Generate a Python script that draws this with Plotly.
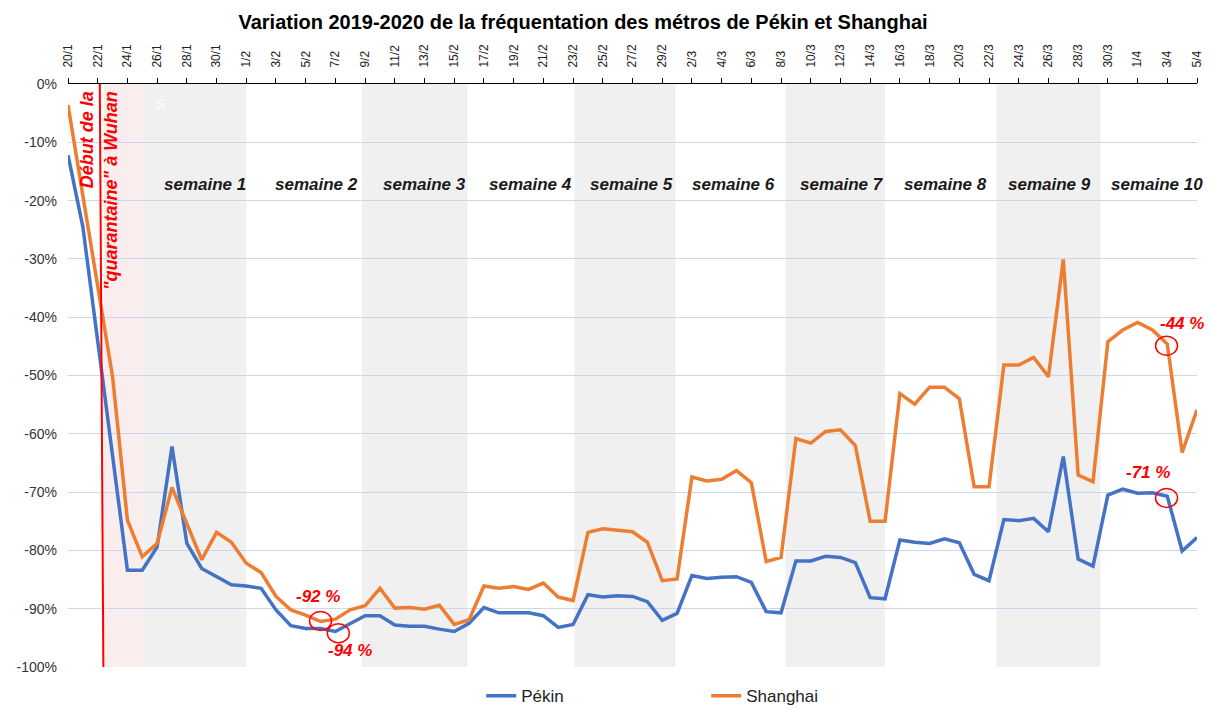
import pandas as pd
import plotly.graph_objects as go

# ---- data ----
dates = [f"{d.day}/{d.month}" for d in pd.date_range("2020-01-20", "2020-04-05")]
pekin = [-12.2, -24.5, -44.1, -63.8, -83.4, -83.4, -79.4, -62.2, -78.8, -83.1,
         -84.5, -85.9, -86.1, -86.5, -90.2, -92.9, -93.4, -93.4, -93.9, -92.5,
         -91.2, -91.2, -92.8, -93.0, -93.0, -93.5, -93.9, -92.5, -89.8, -90.7,
         -90.7, -90.7, -91.2, -93.2, -92.7, -87.6, -88.0, -87.8, -87.9, -88.8,
         -92.0, -90.8, -84.3, -84.8, -84.6, -84.5, -85.5, -90.5, -90.7, -81.8,
         -81.8, -81.0, -81.2, -82.1, -88.1, -88.3, -78.2, -78.6, -78.8, -78.0,
         -78.7, -84.1, -85.2, -74.7, -74.9, -74.5, -76.8, -63.9, -81.5, -82.7,
         -70.5, -69.5, -70.2, -70.1, -70.7, -80.1, -77.8]
shanghai = [-3.6, -19.2, -34.7, -50.2, -74.8, -81.1, -78.8, -69.2, -75.4, -81.6,
            -76.9, -78.6, -82.2, -83.8, -87.9, -90.2, -91.1, -92.2, -91.8, -90.2,
            -89.5, -86.5, -89.9, -89.8, -90.1, -89.4, -92.7, -91.9, -86.1, -86.5,
            -86.2, -86.7, -85.6, -88.0, -88.6, -76.9, -76.3, -76.5, -76.8, -78.6,
            -85.2, -84.9, -67.4, -68.1, -67.8, -66.3, -68.4, -81.9, -81.2, -60.8,
            -61.6, -59.6, -59.3, -62.0, -75.0, -75.0, -53.1, -54.9, -52.0, -52.0,
            -54.0, -69.1, -69.1, -48.2, -48.2, -46.9, -50.2, -30.1, -67.1, -68.2,
            -44.2, -42.2, -40.9, -42.2, -44.6, -63.2, -55.9]
week_labels = [f"semaine {i}" for i in range(1, 11)]
y_ticks = [0, -10, -20, -30, -40, -50, -60, -70, -80, -90, -100]
y_ticktext = ["0%", "-10%", "-20%", "-30%", "-40%", "-50%", "-60%", "-70%", "-80%", "-90%", "-100%"]
x_ticks = dates[::2]

# ---- layout constants ----
BLUE = "#4472C4"
ORANGE = "#ED7D31"
RED = "#FF0000"
FONT = "Liberation Sans, Arial, sans-serif"
grey_bands = [(5.1, 12.0), (19.8, 26.9), (34.1, 40.9), (48.3, 55.0), (62.5, 69.5)]
pink_band = (2.4, 5.1)
week_x = [9.2, 16.7, 24.0, 31.1, 37.9, 44.8, 52.1, 59.1, 66.1, 73.3]
OFF = 8  # page body margin of the browser
W, H = 1212 - OFF, 709 - OFF

fig = go.Figure()
fig.add_trace(go.Scatter(x=dates, y=pekin, mode="lines", name="Pékin",
                         line=dict(color=BLUE, width=3.5)))
fig.add_trace(go.Scatter(x=dates, y=shanghai, mode="lines", name="Shanghai",
                         line=dict(color=ORANGE, width=3.5)))

shapes = []
for x0, x1 in grey_bands:
    shapes.append(dict(type="rect", xref="x", yref="y", x0=x0, x1=x1, y0=-100, y1=0,
                       fillcolor="#F0F0F0", line=dict(width=0), layer="below"))
shapes.append(dict(type="rect", xref="x", yref="y", x0=pink_band[0], x1=pink_band[1],
                   y0=-100, y1=0, fillcolor="#FAEDED", line=dict(width=0), layer="below"))
shapes.append(dict(type="line", xref="x", yref="y", x0=2.14, x1=2.38, y0=0, y1=-100,
                   line=dict(color=RED, width=2)))
# highlight circles
for cx, cy in [(17.0, -92.1), (18.2, -94.2), (73.95, -44.9), (73.95, -71.0)]:
    shapes.append(dict(type="circle", xref="x", yref="y",
                       x0=cx - 0.74, x1=cx + 0.74, y0=cy - 1.63, y1=cy + 1.63,
                       line=dict(color=RED, width=1.5)))

annotations = []
for lab, xx in zip(week_labels, week_x):
    annotations.append(dict(x=xx, y=-17.3, xref="x", yref="y", text=f"<b><i>{lab}</i></b>",
                            showarrow=False, font=dict(family=FONT, size=17, color="#1a1a1a")))
for txt, xx, yy in [("-92 %", 16.8, -87.9), ("-94 %", 19.0, -97.1),
                    ("-44 %", 75.0, -41.0), ("-71 %", 72.7, -66.7)]:
    annotations.append(dict(x=xx, y=yy, xref="x", yref="y", text=f"<b><i>{txt}</i></b>",
                            showarrow=False, font=dict(family=FONT, size=17, color=RED)))
annotations.append(dict(x=2.1, y=-0.9, xref="x", yref="y",
                        text="<b><i>Début de la<br>\"quarantaine\" à Wuhan</i></b>",
                        textangle=-90, align="right", xanchor="center", yanchor="top",
                        showarrow=False, font=dict(family=FONT, size=18, color=RED)))
annotations.append(dict(x=6.2, y=-3.4, xref="x", yref="y", text="S", showarrow=False,
                        font=dict(family=FONT, size=15, color="white")))

fig.update_layout(
    width=W, height=H,
    margin=dict(l=68 - OFF, r=15, t=84 - OFF, b=42, autoexpand=False),
    paper_bgcolor="white", plot_bgcolor="white",
    font=dict(family=FONT, color="#404040"),
    title=dict(text="<b>Variation 2019-2020 de la fréquentation des métros de Pékin et Shanghai</b>",
               x=(583 - OFF) / W, xref="container", xanchor="center",
               y=1 - (22 - OFF) / H, yref="container", yanchor="middle",
               font=dict(family=FONT, size=20, color="black")),
    shapes=shapes,
    annotations=annotations,
    showlegend=True,
    legend=dict(orientation="h", x=0.366, xanchor="left", y=-0.05, yanchor="middle",
                entrywidth=180, font=dict(family=FONT, size=17, color="#222222"),
                bgcolor="rgba(0,0,0,0)"),
)
fig.update_xaxes(type="category", range=[0, 76], side="top",
                 tickmode="array", tickvals=x_ticks, ticktext=x_ticks,
                 tickangle=-90, ticks="outside", ticklen=5, tickcolor="black",
                 showline=True, linecolor="black", linewidth=1,
                 showgrid=False, ticklabelstandoff=8,
                 tickfont=dict(family=FONT, size=12, color="#222222"))
fig.update_yaxes(range=[-100, 0], tickmode="array", tickvals=y_ticks, ticktext=y_ticktext,
                 showgrid=True, gridcolor="#CCD6EC", gridwidth=1, zeroline=False,
                 showline=False, ticks="", ticklabelstandoff=10,
                 tickfont=dict(family=FONT, size=14, color="#333333"))

fig.write_html("out.html")
